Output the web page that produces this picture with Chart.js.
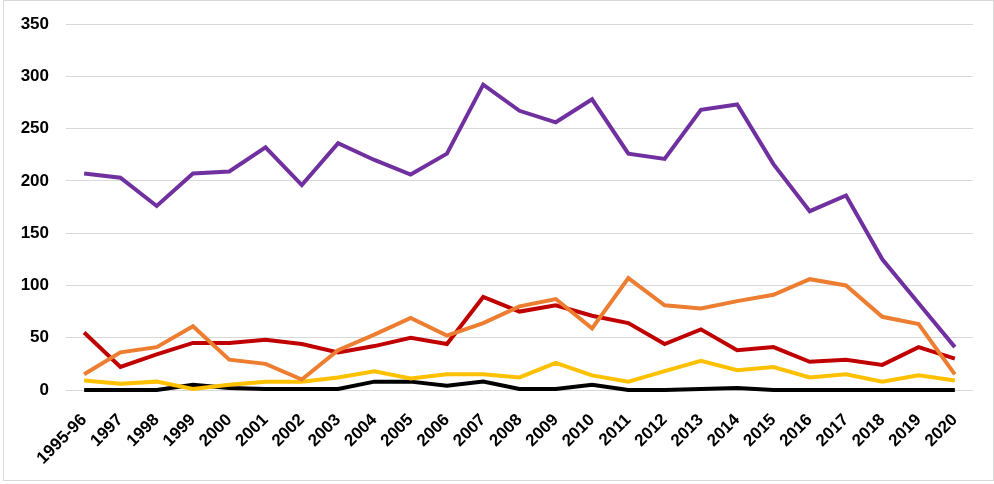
<!DOCTYPE html>
<html>
<head>
<meta charset="utf-8">
<title>Series 1995-2020</title>
<script src="https://cdn.jsdelivr.net/npm/chart.js@4"></script>
<style>
    html, body { margin: 0; padding: 0; background: #fff; }
    #frame {
        position: absolute;
        left: 3px;
        top: 0;
        width: 991px;
        height: 481px;
        border: 1px solid #d9d9d9;
        box-sizing: border-box;
    }
</style>
</head>
<body>
<div id="frame"><canvas id="lineChart"></canvas></div>
<script>
const labels = ['1995-96', '1997', '1998', '1999', '2000', '2001', '2002', '2003', '2004', '2005',
    '2006', '2007', '2008', '2009', '2010', '2011', '2012', '2013', '2014', '2015',
    '2016', '2017', '2018', '2019', '2020'];

const purpleValues = [207, 203, 176, 207, 209, 232, 196, 236, 220, 206, 226, 292, 267, 256, 278, 226, 221, 268, 273, 216, 171, 186, 125, 83, 41];
const orangeValues = [15, 36, 41, 61, 29, 25, 10, 38, 53, 69, 52, 64, 80, 87, 59, 107, 81, 78, 85, 91, 106, 100, 70, 63, 15];
const redValues = [55, 22, 34, 45, 45, 48, 44, 36, 42, 50, 44, 89, 75, 81, 71, 64, 44, 58, 38, 41, 27, 29, 24, 41, 30];
const yellowValues = [9, 6, 8, 1, 5, 8, 8, 12, 18, 11, 15, 15, 12, 26, 14, 8, 18, 28, 19, 22, 12, 15, 8, 14, 9];
const blackValues = [0, 0, 0, 5, 2, 1, 1, 1, 8, 8, 4, 8, 1, 1, 5, 0, 0, 1, 2, 0, 0, 0, 0, 0, 0];

const yTicks = { min: 0, max: 350, step: 50 };

function serie(data, color) {
    return {
        data: data,
        borderColor: color,
        backgroundColor: color,
        borderWidth: 4,
        pointRadius: 0,
        tension: 0,
        fill: false,
        clip: 6 // let the zero line keep its full width
    };
}

const tickFont = { family: "'Liberation Sans', Arial, sans-serif", size: 17, weight: 'bold' };

new Chart(document.getElementById('lineChart').getContext('2d'), {
    type: 'line',
    data: {
        labels: labels,
        datasets: [
            serie(purpleValues, '#7030a0'),
            serie(orangeValues, '#ed7d31'),
            serie(redValues, '#c00000'),
            serie(yellowValues, '#ffc000'),
            serie(blackValues, '#000000')
        ]
    },
    options: {
        responsive: true,
        maintainAspectRatio: false,
        animation: false,
        layout: { padding: { top: 23, right: 20, left: 0, bottom: 0 } },
        plugins: {
            legend: { display: false },
            tooltip: { enabled: false }
        },
        scales: {
            x: {
                offset: true,
                grid: { display: false, drawTicks: false },
                border: { display: false },
                ticks: {
                    color: '#000',
                    font: tickFont,
                    autoSkip: false,
                    minRotation: 45,
                    maxRotation: 45,
                    padding: 20
                },
                afterFit: scale => { scale.height = 90; }
            },
            y: {
                min: yTicks.min,
                max: yTicks.max,
                grid: { color: '#d9d9d9', lineWidth: 1, drawTicks: false },
                border: { display: false },
                ticks: {
                    stepSize: yTicks.step,
                    color: '#000',
                    font: tickFont,
                    padding: 17
                },
                afterFit: scale => {
                    scale.width = 62;
                    // tick padding would otherwise push the plot down from the top
                    scale.paddingTop = 0;
                    scale.paddingBottom = 0;
                }
            }
        }
    }
});
</script>
</body>
</html>
